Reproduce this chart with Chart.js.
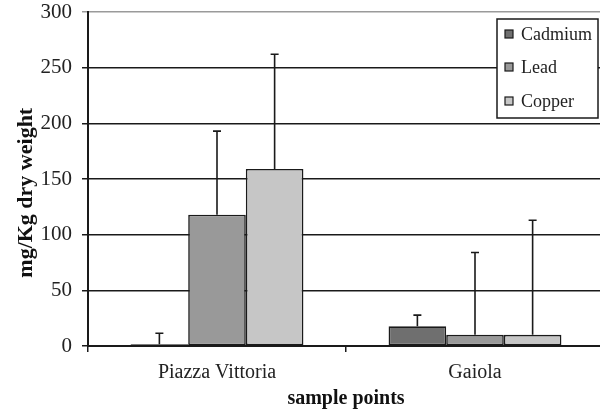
<!DOCTYPE html>
<html>
<head>
<meta charset="utf-8">
<script src="https://cdn.jsdelivr.net/npm/chart.js@4/dist/chart.umd.min.js"></script>
<style>
  html, body { margin: 0; padding: 0; background: #fff; overflow: hidden; }
  #wrap { width: 604px; height: 412px; }
</style>
</head>
<body>
<div id="wrap"><canvas id="c" width="604" height="412"></canvas></div>
<script>
// values
const sites = ['Piazza Vittoria', 'Gaiola'];
const metals = ['Cadmium', 'Lead', 'Copper'];
const cadmium = [1.5, 17.7];
const lead = [118, 10];
const copper = [159, 10];
const cadmiumErr = [10, 10];
const leadErr = [75, 74];
const copperErr = [103, 103];
const yTicks = [0, 50, 100, 150, 200, 250, 300];

const FILLS = ['#6f6f6f', '#999999', '#c6c6c6'];
const SERIF = '"Liberation Serif", "DejaVu Serif", serif';

// ── error bars (upper whisker only) ──────────────────────────────
const errorBarPlugin = {
  id: 'errorBars',
  afterDatasetsDraw(chart) {
    const { ctx } = chart;
    const y = chart.scales.y;
    ctx.save();
    ctx.strokeStyle = '#1a1a1a';
    ctx.lineWidth = 1.6;
    chart.data.datasets.forEach((ds, di) => {
      const meta = chart.getDatasetMeta(di);
      meta.data.forEach((bar, i) => {
        const top = y.getPixelForValue(ds.data[i] + ds._err[i]);
        const base = y.getPixelForValue(ds.data[i]);
        ctx.beginPath();
        ctx.moveTo(bar.x, base);
        ctx.lineTo(bar.x, top);
        ctx.moveTo(bar.x - 4, top);
        ctx.lineTo(bar.x + 4, top);
        ctx.stroke();
      });
    });
    ctx.restore();
  },
};

// ── legend box drawn inside the plot area, top right ─────────────
const boxLegendPlugin = {
  id: 'boxLegend',
  afterDraw(chart) {
    const { ctx } = chart;
    const x0 = 497, y0 = 19, w = 101, h = 99;
    ctx.save();
    ctx.fillStyle = '#fff';
    ctx.fillRect(x0, y0, w, h);
    ctx.strokeStyle = '#1a1a1a';
    ctx.lineWidth = 1.5;
    ctx.strokeRect(x0, y0, w, h);
    const rows = [34, 67, 101];
    ctx.font = '18px ' + SERIF;
    ctx.textBaseline = 'middle';
    chart.data.datasets.forEach((ds, i) => {
      ctx.fillStyle = ds.backgroundColor;
      ctx.fillRect(505, rows[i] - 4, 8, 8);
      ctx.lineWidth = 1.2;
      ctx.strokeRect(505, rows[i] - 4, 8, 8);
      ctx.fillStyle = '#222';
      ctx.fillText(ds.label, 521, rows[i] + 1);
    });
    ctx.restore();
  },
};

function series(label, data, err, i) {
  return {
    label, data, _err: err,
    backgroundColor: FILLS[i],
    borderColor: '#1a1a1a',
    borderWidth: 1.6,
    borderSkipped: false,
    categoryPercentage: 0.67,
    barPercentage: 1.0,
  };
}

new Chart(document.getElementById('c'), {
  type: 'bar',
  plugins: [errorBarPlugin, boxLegendPlugin],
  data: {
    labels: sites,
    datasets: [
      series(metals[0], cadmium, cadmiumErr, 0),
      series(metals[1], lead, leadErr, 1),
      series(metals[2], copper, copperErr, 2),
    ],
  },
  options: {
    responsive: false,
    animation: false,
    layout: { padding: { top: 12, right: 0, left: 9, bottom: 0 } },
    plugins: {
      legend: { display: false },
      tooltip: { enabled: false },
    },
    scales: {
      x: {
        afterFit(scale) { scale.height = 66; scale.paddingLeft = 0; scale.paddingRight = 0; },
        grid: {
          offset: true,
          drawOnChartArea: false,
          drawTicks: true,
          tickLength: 6,
          color: '#1a1a1a',
          lineWidth: 1.5,
        },
        border: { color: '#1a1a1a', width: 2 },
        ticks: { color: '#222', font: { family: SERIF, size: 20 }, padding: 9 },
        title: {
          display: true, text: 'sample points', color: '#111',
          font: { family: SERIF, size: 20, weight: 'bold' }, padding: { top: 0, bottom: 1 },
        },
      },
      y: {
        min: 0, max: 300,
        afterBuildTicks(scale) { scale.ticks = yTicks.map(v => ({ value: v })); },
        afterFit(scale) { scale.width = 79; scale.paddingTop = 0; scale.paddingBottom = 0; },
        grid: {
          color: ctx => (ctx.tick && ctx.tick.value === 300 ? '#9a9a9a' : '#1a1a1a'),
          lineWidth: 1.5,
          tickLength: 6,
        },
        border: { color: '#1a1a1a', width: 2 },
        ticks: { color: '#222', font: { family: SERIF, size: 21 }, padding: 10 },
        title: {
          // trailing spaces nudge the rotated title down a little, as in the original
          display: true, text: 'mg/Kg dry weight\u00a0\u00a0\u00a0\u00a0\u00a0', color: '#111',
          font: { family: SERIF, size: 22, weight: 'bold' }, padding: { bottom: 0 },
        },
      },
    },
  },
});
</script>
</body>
</html>
